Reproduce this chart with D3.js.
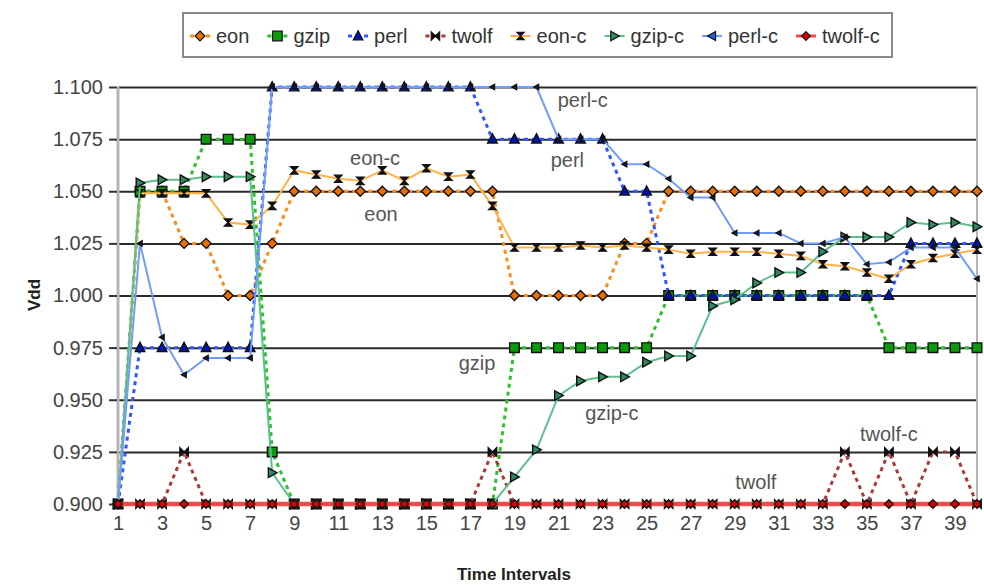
<!DOCTYPE html>
<html>
<head>
<meta charset="utf-8">
<script src="https://cdn.jsdelivr.net/npm/d3@7"></script>
<style>
  html, body { margin: 0; padding: 0; background: #fff; }
  svg { display: block; font-family: "Liberation Sans", Arial, sans-serif; }
</style>
</head>
<body>
<svg id="chart" width="984" height="585"></svg>
<script>
// ── data ───────────────────────────────────────────────────────────────────
const categories = [1, 2, 3, 4, 5, 6, 7, 8, 9, 10, 11, 12, 13, 14, 15, 16, 17, 18, 19, 20,
  21, 22, 23, 24, 25, 26, 27, 28, 29, 30, 31, 32, 33, 34, 35, 36, 37, 38, 39, 40];
const xTickLabels = [1, 3, 5, 7, 9, 11, 13, 15, 17, 19, 21, 23, 25, 27, 29, 31, 33, 35, 37, 39];
const yTickLabels = [0.9, 0.925, 0.95, 0.975, 1.0, 1.025, 1.05, 1.075, 1.1];

const eon = [0.9, 1.05, 1.05, 1.025, 1.025, 1.0, 1.0, 1.025, 1.05, 1.05,
  1.05, 1.05, 1.05, 1.05, 1.05, 1.05, 1.05, 1.05, 1.0, 1.0,
  1.0, 1.0, 1.0, 1.025, 1.025, 1.05, 1.05, 1.05, 1.05, 1.05,
  1.05, 1.05, 1.05, 1.05, 1.05, 1.05, 1.05, 1.05, 1.05, 1.05];
const gzip = [0.9, 1.05, 1.05, 1.05, 1.075, 1.075, 1.075, 0.925, 0.9, 0.9,
  0.9, 0.9, 0.9, 0.9, 0.9, 0.9, 0.9, 0.9, 0.975, 0.975,
  0.975, 0.975, 0.975, 0.975, 0.975, 1.0, 1.0, 1.0, 1.0, 1.0,
  1.0, 1.0, 1.0, 1.0, 1.0, 0.975, 0.975, 0.975, 0.975, 0.975];
const perl = [0.9, 0.975, 0.975, 0.975, 0.975, 0.975, 0.975, 1.1, 1.1, 1.1,
  1.1, 1.1, 1.1, 1.1, 1.1, 1.1, 1.1, 1.075, 1.075, 1.075,
  1.075, 1.075, 1.075, 1.05, 1.05, 1.0, 1.0, 1.0, 1.0, 1.0,
  1.0, 1.0, 1.0, 1.0, 1.0, 1.0, 1.025, 1.025, 1.025, 1.025];
const twolf = [0.9, 0.9, 0.9, 0.925, 0.9, 0.9, 0.9, 0.9, 0.9, 0.9,
  0.9, 0.9, 0.9, 0.9, 0.9, 0.9, 0.9, 0.925, 0.9, 0.9,
  0.9, 0.9, 0.9, 0.9, 0.9, 0.9, 0.9, 0.9, 0.9, 0.9,
  0.9, 0.9, 0.9, 0.925, 0.9, 0.925, 0.9, 0.925, 0.925, 0.9];
const eonC = [0.9, 1.049, 1.049, 1.049, 1.049, 1.035, 1.034, 1.043, 1.06, 1.058,
  1.056, 1.055, 1.06, 1.055, 1.061, 1.057, 1.058, 1.043, 1.023, 1.023,
  1.023, 1.024, 1.023, 1.024, 1.023, 1.022, 1.02, 1.021, 1.021, 1.021,
  1.02, 1.019, 1.015, 1.014, 1.011, 1.008, 1.015, 1.018, 1.02, 1.022];
const gzipC = [0.9, 1.054, 1.0555, 1.0555, 1.057, 1.057, 1.057, 0.915, 0.9, 0.9,
  0.9, 0.9, 0.9, 0.9, 0.9, 0.9, 0.9, 0.9, 0.913, 0.926,
  0.952, 0.959, 0.961, 0.961, 0.968, 0.971, 0.971, 0.995, 0.998, 1.006,
  1.011, 1.011, 1.021, 1.028, 1.028, 1.028, 1.035, 1.034, 1.035, 1.033];
const perlC = [0.9, 1.025, 0.98, 0.962, 0.97, 0.97, 0.97, 1.1, 1.1, 1.1,
  1.1, 1.1, 1.1, 1.1, 1.1, 1.1, 1.1, 1.1, 1.1, 1.1,
  1.075, 1.075, 1.075, 1.063, 1.063, 1.056, 1.047, 1.047, 1.03, 1.03,
  1.03, 1.025, 1.025, 1.028, 1.015, 1.016, 1.023, 1.023, 1.023, 1.008];
const twolfC = [0.9, 0.9, 0.9, 0.9, 0.9, 0.9, 0.9, 0.9, 0.9, 0.9,
  0.9, 0.9, 0.9, 0.9, 0.9, 0.9, 0.9, 0.9, 0.9, 0.9,
  0.9, 0.9, 0.9, 0.9, 0.9, 0.9, 0.9, 0.9, 0.9, 0.9,
  0.9, 0.9, 0.9, 0.9, 0.9, 0.9, 0.9, 0.9, 0.9, 0.9];

// ── marker shapes ─────────────────────────────────────────────────────────
const shapes = {
  diamond: (s) => `M0,${-s}L${s},0L0,${s}L${-s},0Z`,
  square: (s) => `M${-s},${-s}H${s}V${s}H${-s}Z`,
  triUp: (s) => `M0,${-s * 1.1}L${s},${s * 0.8}L${-s},${s * 0.8}Z`,
  triRight: (s) => `M${-s * 0.8},${-s}L${s},0L${-s * 0.8},${s}Z`,
  triLeft: (s) => `M${s * 0.8},${-s}L${-s},0L${s * 0.8},${s}Z`,
  bowtie: (s) => `M${-s},${-s}L0,0L${-s},${s}ZM${s},${-s}L0,0L${s},${s}Z`,
  hourglass: (s) => `M${-s},${-s}L${s},${-s}L0,0ZM${-s},${s}L${s},${s}L0,0Z`,
};

const series = [
  { name: 'eon', values: eon, color: '#ff8a1e', width: 3, dash: '4,4', shape: 'diamond', fill: '#e86f00', size: 5 },
  { name: 'gzip', values: gzip, color: '#2fbf2f', width: 3, dash: '4,4', shape: 'square', fill: '#0a9a0a', size: 4.8 },
  { name: 'perl', values: perl, color: '#2f55ff', width: 3, dash: '4,4', shape: 'triUp', fill: '#0015b0', size: 4.8 },
  { name: 'twolf', values: twolf, color: '#a83a3a', width: 3, dash: '4,4', shape: 'bowtie', fill: '#111', size: 4.2 },
  { name: 'eon-c', values: eonC, color: '#ffb347', width: 2, dash: null, shape: 'hourglass', fill: '#111', size: 3.6 },
  { name: 'gzip-c', values: gzipC, color: '#5cbf90', width: 2, dash: null, shape: 'triRight', fill: '#2e8b60', size: 4.8 },
  { name: 'perl-c', values: perlC, color: '#6f9cff', width: 2, dash: null, shape: 'triLeft', fill: '#1a1a40', size: 2.6, legendFill: '#2060e0', legendSize: 4.5 },
  { name: 'twolf-c', values: twolfC, color: '#ee4a4a', width: 4.5, dash: null, shape: 'diamond', fill: '#e00000', size: 4.3 },
];

// ── layout ────────────────────────────────────────────────────────────────
const svg = d3.select('#chart');
const x = d3.scaleLinear().domain([1, 40]).range([118, 977]);
const y = d3.scaleLinear().domain([0.9, 1.1]).range([504, 87]);

// gridlines
svg.append('g')
  .attr('transform', 'translate(118,0)')
  .call(d3.axisLeft(y).tickValues(yTickLabels).tickSize(-(977 - 118)).tickFormat(''))
  .call((g) => g.select('.domain').remove())
  .call((g) => g.selectAll('line').attr('stroke', '#2a2a2a').attr('stroke-width', 2));

// plot edges
svg.append('line').attr('x1', 118).attr('x2', 118).attr('y1', 87).attr('y2', 504)
  .attr('stroke', '#b5b5b5').attr('stroke-width', 3);
svg.append('line').attr('x1', 977).attr('x2', 977).attr('y1', 87).attr('y2', 504)
  .attr('stroke', '#b5b5b5').attr('stroke-width', 2);

// y axis ticks + labels
svg.append('g')
  .attr('transform', 'translate(117,0)')
  .call(d3.axisLeft(y).tickValues(yTickLabels).tickSize(8).tickPadding(6).tickFormat(d3.format('.3f')))
  .call((g) => g.select('.domain').remove())
  .call((g) => g.selectAll('line').attr('stroke', '#333').attr('stroke-width', 2))
  .call((g) => g.selectAll('text').attr('font-size', 20).attr('fill', '#444')
    .attr('font-family', '"Liberation Sans", Arial, sans-serif'));

// x axis labels
svg.append('g')
  .attr('transform', 'translate(0,504)')
  .call(d3.axisBottom(x).tickValues(xTickLabels).tickSize(0).tickPadding(12).tickFormat(d3.format('d')))
  .call((g) => g.select('.domain').remove())
  .call((g) => g.selectAll('text').attr('font-size', 20).attr('fill', '#444')
    .attr('font-family', '"Liberation Sans", Arial, sans-serif'));

// axis titles
svg.append('text').attr('transform', 'translate(40,295) rotate(-90)')
  .attr('text-anchor', 'middle').attr('font-size', 17).attr('font-weight', 'bold').attr('fill', '#222')
  .text('Vdd');
svg.append('text').attr('x', 514).attr('y', 580)
  .attr('text-anchor', 'middle').attr('font-size', 17).attr('font-weight', 'bold').attr('fill', '#222')
  .text('Time Intervals');

// series
const line = d3.line().x((d, i) => x(categories[i])).y((d) => y(d));
for (const s of series) {
  const g = svg.append('g');
  g.append('path')
    .datum(s.values)
    .attr('fill', 'none')
    .attr('stroke', s.color)
    .attr('stroke-width', s.width)
    .attr('stroke-dasharray', s.dash)
    .attr('d', line);
  g.selectAll('path.m')
    .data(s.values)
    .join('path')
    .attr('class', 'm')
    .attr('transform', (d, i) => `translate(${x(categories[i])},${y(d)})`)
    .attr('d', shapes[s.shape](s.size))
    .attr('fill', s.fill)
    .attr('stroke', '#111')
    .attr('stroke-width', 1.4);
}

// in-plot labels (category, value)
const notes = [
  ['perl-c', 22.1, 1.0904], ['perl', 21.4, 1.0616], ['eon-c', 12.67, 1.0626], ['eon', 12.94, 1.0357],
  ['gzip', 17.3, 0.9643], ['gzip-c', 23.42, 0.9403], ['twolf-c', 36.0, 0.9302], ['twolf', 29.96, 0.9072],
];
svg.append('g').selectAll('text')
  .data(notes)
  .join('text')
  .attr('x', (d) => x(d[1]))
  .attr('y', (d) => y(d[2]))
  .attr('text-anchor', 'middle')
  .attr('font-size', 20)
  .attr('fill', '#555')
  .text((d) => d[0]);

// legend
const lg = svg.append('g');
lg.append('rect').attr('x', 183).attr('y', 13).attr('width', 709).attr('height', 44)
  .attr('fill', '#fff').attr('stroke', '#8a8a8a').attr('stroke-width', 2);
let lx = 190;
for (const s of series) {
  const e = lg.append('g').attr('transform', `translate(${lx},36)`);
  e.append('line').attr('x1', 0).attr('x2', 20).attr('y1', 0).attr('y2', 0)
    .attr('stroke', s.color).attr('stroke-width', Math.min(s.width, 3)).attr('stroke-dasharray', s.dash);
  e.append('path').attr('transform', 'translate(10,0)')
    .attr('d', shapes[s.shape](s.legendSize || s.size))
    .attr('fill', s.legendFill || s.fill).attr('stroke', '#111').attr('stroke-width', 1.2);
  const t = e.append('text').attr('x', 26).attr('y', 7).attr('font-size', 20).attr('fill', '#333').text(s.name);
  lx += 26 + t.node().getComputedTextLength() + 18;
}
</script>
</body>
</html>
